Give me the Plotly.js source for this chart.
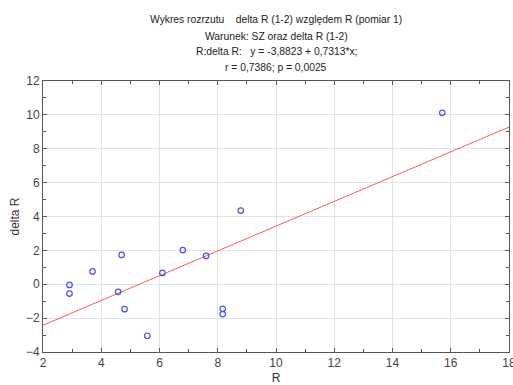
<!DOCTYPE html>
<html>
<head>
<meta charset="utf-8">
<script src="https://cdn.plot.ly/plotly-3.0.1.min.js"></script>
<style>html,body{margin:0;padding:0;background:#fff;}#chart{width:513px;height:385px;}</style>
</head>
<body>
<div id="chart"></div>
<script>
// R (pomiar 1) values
const rValues = [2.91, 2.91, 3.70, 4.70, 4.58, 4.80, 5.58, 6.10, 6.80, 7.60, 8.17, 8.17, 8.79, 15.71];
// delta R (1-2) values
const deltaR = [-0.04, -0.55, 0.76, 1.73, -0.45, -1.47, -3.04, 0.67, 2.02, 1.67, -1.45, -1.76, 4.35, 10.12];
// regression coefficients from the title
const intercept = -3.8823;
const slope = 0.7313;
const fitX = [2, 18];
const fitY = fitX.map(x => intercept + slope * x);

const titleLines = [
  "Wykres rozrzutu    delta R (1-2) względem R (pomiar 1)",
  "Warunek: SZ oraz delta R (1-2)",
  "R:delta R:   y = -3,8823 + 0,7313*x;",
  "r = 0,7386; p = 0,0025"
];
const titleY = [20, 36, 52, 67];

const axisCommon = {
  showline: true, linecolor: '#555', linewidth: 1, mirror: 'ticks',
  ticks: 'inside', ticklen: 4, tickcolor: '#555', tickwidth: 1,
  showgrid: true, gridcolor: '#e3e3e3', gridwidth: 1, zeroline: false,
  ticklabeloverflow: 'allow',
  tickfont: {family: 'Liberation Sans, Arial', size: 12, color: '#444'},
  minor: {ticks: 'inside', ticklen: 3, tickcolor: '#555', dtick: 1, showgrid: false}
};

const traces = [
  {
    x: fitX, y: fitY, mode: 'lines', type: 'scatter',
    line: {color: '#ff5a5a', width: 1}, hoverinfo: 'skip', cliponaxis: true
  },
  {
    x: rValues, y: deltaR, mode: 'markers', type: 'scatter',
    marker: {symbol: 'circle-open', size: 5.5, color: '#5050ff', line: {width: 1.2}}
  }
];

const annotations = titleLines.map((t, i) => ({
  text: t, xref: 'paper', x: 0.5, xanchor: 'center',
  yref: 'paper', y: 1 + (81 - titleY[i]) / 271, yanchor: 'middle',
  showarrow: false,
  font: {family: 'Liberation Sans, Arial', size: 10.3, color: '#222'}
}));

const layout = {
  width: 513, height: 385,
  margin: {l: 43, r: 4, t: 81, b: 33},
  paper_bgcolor: '#fff', plot_bgcolor: '#fff',
  showlegend: false,
  font: {family: 'Liberation Sans, Arial', color: '#333'},
  annotations: annotations,
  xaxis: Object.assign({}, axisCommon, {
    range: [2, 18], dtick: 2, tick0: 2,
    title: {text: 'R', font: {size: 12, color: '#333'}, standoff: 11}
  }),
  yaxis: Object.assign({}, axisCommon, {
    range: [-4, 12], dtick: 2, tick0: 0,
    title: {text: 'delta R', font: {size: 12, color: '#333'}, standoff: 3}
  })
};

Plotly.newPlot('chart', traces, layout, {displayModeBar: false, staticPlot: true});
</script>
</body>
</html>
